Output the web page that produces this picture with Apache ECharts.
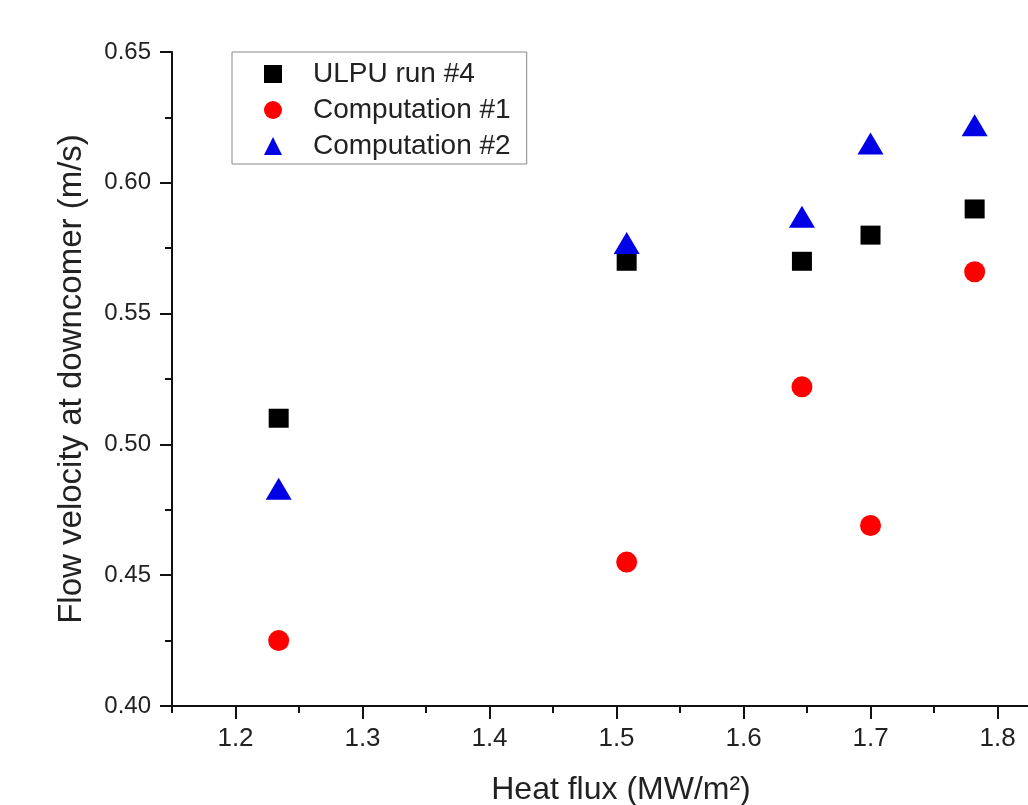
<!DOCTYPE html>
<html>
<head>
<meta charset="utf-8">
<title>Flow velocity at downcomer</title>
<script src="https://cdn.jsdelivr.net/npm/echarts@6/dist/echarts.min.js"></script>
<style>
    html, body { margin: 0; padding: 0; background: #fff; }
    #chart { width: 1028px; height: 805px; }
</style>
</head>
<body>
<div id="chart"></div>
<script>
    // heat flux (MW/m2) of each run
    var heatFlux = [1.234, 1.508, 1.646, 1.700, 1.782];
    var ulpuRun4 = [0.510, 0.570, 0.570, 0.580, 0.590];
    var computation1 = [0.425, 0.455, 0.522, 0.469, 0.566];
    var computation2 = [0.483, 0.577, 0.587, 0.615, 0.622];

    var xMajorTicks = [1.2, 1.3, 1.4, 1.5, 1.6, 1.7, 1.8];
    var xMinorTicks = [1.15, 1.25, 1.35, 1.45, 1.55, 1.65, 1.75];

    var seriesNames = ['ULPU run #4', 'Computation #1', 'Computation #2'];

    function pairs(ys) {
        return heatFlux.map(function (x, i) { return [x, ys[i]]; });
    }

    var font = '"Liberation Sans", Arial, sans-serif';
    var chart = echarts.init(document.getElementById('chart'));

    // the original figure is cut at the right edge, so the axis runs off the page
    var xMin = 1.15, xMax = 1.824;

    chart.setOption({
        animation: false,
        backgroundColor: '#fff',
        textStyle: { fontFamily: font, color: '#222' },
        grid: { left: 172, top: 52, bottom: 99, right: 0, outerBoundsMode: 'none', containLabel: false },
        legend: {
            orient: 'vertical',
            left: 232,
            top: 52,
            padding: [8, 16, 4, 32],
            itemWidth: 18,
            itemHeight: 18,
            itemGap: 8,
            borderColor: '#888',
            borderWidth: 1,
            textStyle: { fontSize: 28, color: '#222', fontFamily: font, lineHeight: 28, padding: [0, 0, 0, 26] },
            data: [
                { name: seriesNames[0], icon: 'rect' },
                { name: seriesNames[1], icon: 'circle' },
                { name: seriesNames[2], icon: 'triangle' }
            ]
        },
        xAxis: [{
            type: 'value',
            min: xMin,
            max: xMax,
            interval: 0.05,
            name: 'Heat flux (MW/m²)',
            nameLocation: 'middle',
            nameGap: 68,
            nameTextStyle: { fontSize: 32, color: '#222', fontFamily: font, padding: [0, 0, 0, 42] },
            axisLine: { lineStyle: { color: '#111', width: 2 } },
            axisTick: { customValues: xMajorTicks, length: 13, lineStyle: { color: '#111', width: 2 } },
            axisLabel: {
                customValues: xMajorTicks,
                margin: 20,
                fontSize: 26,
                color: '#222',
                formatter: function (v) { return v.toFixed(1); }
            },
            splitLine: { show: false }
        }, {
            // short ticks halfway between labels
            type: 'value',
            position: 'bottom',
            min: xMin,
            max: xMax,
            interval: 0.05,
            axisLine: { show: false },
            axisTick: { customValues: xMinorTicks, length: 7, lineStyle: { color: '#111', width: 2 } },
            axisLabel: { show: false },
            splitLine: { show: false }
        }],
        yAxis: {
            type: 'value',
            min: 0.40,
            max: 0.65,
            interval: 0.05,
            name: 'Flow velocity at downcomer (m/s)',
            nameLocation: 'middle',
            nameGap: 84,
            nameTextStyle: { fontSize: 33, color: '#222', fontFamily: font },
            axisLine: { show: true, lineStyle: { color: '#111', width: 2 } },
            axisTick: { show: true, length: 12, lineStyle: { color: '#111', width: 2 } },
            minorTick: { show: true, splitNumber: 2, length: 7, lineStyle: { color: '#111', width: 2 } },
            axisLabel: {
                margin: 21,
                fontSize: 24,
                color: '#222',
                formatter: function (v) { return v.toFixed(2); }
            },
            splitLine: { show: false }
        },
        series: [{
            name: seriesNames[0],
            type: 'scatter',
            symbol: 'rect',
            symbolSize: [20, 19],
            itemStyle: { color: '#000', opacity: 1 },
            data: pairs(ulpuRun4)
        }, {
            name: seriesNames[1],
            type: 'scatter',
            symbol: 'circle',
            symbolSize: 21,
            itemStyle: { color: '#f00', opacity: 1 },
            data: pairs(computation1)
        }, {
            name: seriesNames[2],
            type: 'scatter',
            symbol: 'triangle',
            symbolSize: [26, 22],
            itemStyle: { color: '#0000e6', opacity: 1 },
            data: pairs(computation2)
        }]
    });
</script>
</body>
</html>
